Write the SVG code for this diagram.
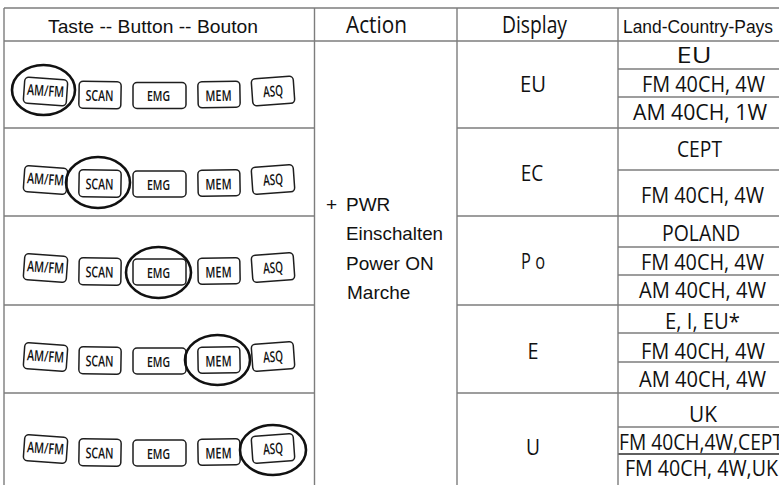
<svg xmlns="http://www.w3.org/2000/svg" width="779" height="485" viewBox="0 0 779 485">
<style>
.grid{stroke:#7d7d7d;stroke-width:1.4;fill:none}
.dark{stroke:#2a2a2a}
.btn{fill:#fff;stroke:#1e1e1e;stroke-width:1.5}
.bt{font-family:"Open Sans","Liberation Sans",sans-serif;font-size:15px;font-weight:600;fill:#111;text-anchor:middle}
.ring{fill:none;stroke:#111;stroke-width:2.6}
.ha{font-family:"Liberation Sans",Arial,sans-serif;fill:#111}
.ho{font-family:"Open Sans","Noto Sans",sans-serif;font-size:23px;fill:#111}
.val{font-family:"Open Sans","Noto Sans",sans-serif;font-size:22.5px;fill:#111;text-anchor:middle}
.act{font-family:"Liberation Sans",Arial,sans-serif;font-size:19px;fill:#111}
</style>
<defs>
<g id="btnset">
<g transform="rotate(4 45.5 -3.5)"><rect class="btn" x="24" y="-16.5" width="43" height="26" rx="4"/><text class="bt" x="45.5" y="1" font-size="13.5" textLength="37" lengthAdjust="spacingAndGlyphs">AM/FM</text></g>
<g transform="rotate(1 100 0)"><rect class="btn" x="79" y="-13.5" width="42" height="27" rx="4"/><text class="bt" x="99.5" y="6" textLength="28" lengthAdjust="spacingAndGlyphs">SCAN</text></g>
<g><rect class="btn" x="133" y="-12.5" width="53" height="26" rx="4"/><text class="bt" x="158.5" y="6" textLength="23" lengthAdjust="spacingAndGlyphs">EMG</text></g>
<g transform="rotate(-1 219 0)"><rect class="btn" x="198" y="-13.5" width="42" height="26" rx="4"/><text class="bt" x="218.5" y="6" textLength="26" lengthAdjust="spacingAndGlyphs">MEM</text></g>
<g transform="rotate(-4 273 -4)"><rect class="btn" x="252" y="-17.5" width="42" height="27" rx="4"/><text class="bt" x="273" y="1.5" textLength="20" lengthAdjust="spacingAndGlyphs">ASQ</text></g>
</g>
</defs>
<rect width="779" height="485" fill="#fff"/>
<g id="connectors">
<path class="grid" d="M4 8H782M4 41H782M4 128H314.5M457 128H782M4 216H314.5M457 216H782M4 305H314.5M457 305H782M4 393H314.5M457 393H782"/>
<path class="grid" d="M618 69H782M618 97H782M618 170H782M618 247H782M618 275H782M618 333H782M618 362H782M618 427H782"/>
<path class="grid dark" d="M618 454H782"/>
<path class="grid" d="M4 8V485M314.5 8V485M457 8V485M618 8V485"/>
</g>
<g id="header">
<text class="ha" x="48" y="33" font-size="19" textLength="210" lengthAdjust="spacingAndGlyphs">Taste -- Button -- Bouton</text>
<text class="ho" x="346" y="33" textLength="61" lengthAdjust="spacingAndGlyphs">Action</text>
<text class="ho" x="502" y="33" textLength="65" lengthAdjust="spacingAndGlyphs">Display</text>
<text class="ha" x="623" y="33" font-size="17.5" textLength="150" lengthAdjust="spacingAndGlyphs">Land-Country-Pays</text>
</g>
<g id="action">
<text class="act"><tspan x="326" y="211">+</tspan><tspan x="346" y="211">PWR</tspan></text>
<text class="act" x="346" y="240" textLength="97" lengthAdjust="spacingAndGlyphs">Einschalten</text>
<text class="act" x="346" y="270">Power ON</text>
<text class="act" x="347" y="299">Marche</text>
</g>
<g id="row1">
<use href="#btnset" transform="translate(0 95)"/>
<ellipse class="ring" cx="43.5" cy="90" rx="31.5" ry="25"/>
<text class="val" x="533" y="92" textLength="26" lengthAdjust="spacingAndGlyphs">EU</text>
<text class="val" x="694" y="63" textLength="35" lengthAdjust="spacingAndGlyphs">EU</text>
<text class="val" x="703.5" y="92" textLength="123" lengthAdjust="spacingAndGlyphs">FM 40CH, 4W</text>
<text class="val" x="700" y="120" textLength="134" lengthAdjust="spacingAndGlyphs">AM 40CH, 1W</text>
</g>
<g id="row2">
<use href="#btnset" transform="translate(0 183.5)"/>
<ellipse class="ring" cx="98" cy="182.5" rx="32" ry="25.5"/>
<text class="val" x="532" y="181" textLength="22.5" lengthAdjust="spacingAndGlyphs">EC</text>
<text class="val" x="699.5" y="157" textLength="45" lengthAdjust="spacingAndGlyphs">CEPT</text>
<text class="val" x="702.5" y="203" textLength="123" lengthAdjust="spacingAndGlyphs">FM 40CH, 4W</text>
</g>
<g id="row3">
<use href="#btnset" transform="translate(0 271.5)"/>
<ellipse class="ring" cx="158.5" cy="272.5" rx="32.5" ry="25.5"/>
<text class="val" x="533" y="269" textLength="24" lengthAdjust="spacingAndGlyphs">P o</text>
<text class="val" x="701" y="241" textLength="78" lengthAdjust="spacingAndGlyphs">POLAND</text>
<text class="val" x="702.5" y="270" textLength="123" lengthAdjust="spacingAndGlyphs">FM 40CH, 4W</text>
<text class="val" x="702.5" y="298" textLength="127" lengthAdjust="spacingAndGlyphs">AM 40CH, 4W</text>
</g>
<g id="row4">
<use href="#btnset" transform="translate(0 360.5)"/>
<ellipse class="ring" cx="217.5" cy="360" rx="32.5" ry="25"/>
<text class="val" x="533" y="359" textLength="11" lengthAdjust="spacingAndGlyphs">E</text>
<text class="val" x="702.5" y="329" textLength="75" lengthAdjust="spacingAndGlyphs">E, I, EU*</text>
<text class="val" x="703" y="359" textLength="124" lengthAdjust="spacingAndGlyphs">FM 40CH, 4W</text>
<text class="val" x="702.5" y="387" textLength="127" lengthAdjust="spacingAndGlyphs">AM 40CH, 4W</text>
</g>
<g id="row5">
<use href="#btnset" transform="translate(0 452.5)"/>
<ellipse class="ring" cx="273" cy="450" rx="33" ry="25"/>
<text class="val" x="533" y="455" textLength="14" lengthAdjust="spacingAndGlyphs">U</text>
<text class="val" x="703" y="422" textLength="28" lengthAdjust="spacingAndGlyphs">UK</text>
<text class="val" x="619" y="450" style="text-anchor:start" textLength="164" lengthAdjust="spacingAndGlyphs">FM 40CH,4W,CEPT</text>
<text class="val" x="625" y="476" style="text-anchor:start" textLength="153" lengthAdjust="spacingAndGlyphs">FM 40CH, 4W,UK</text>
</g>
</svg>
